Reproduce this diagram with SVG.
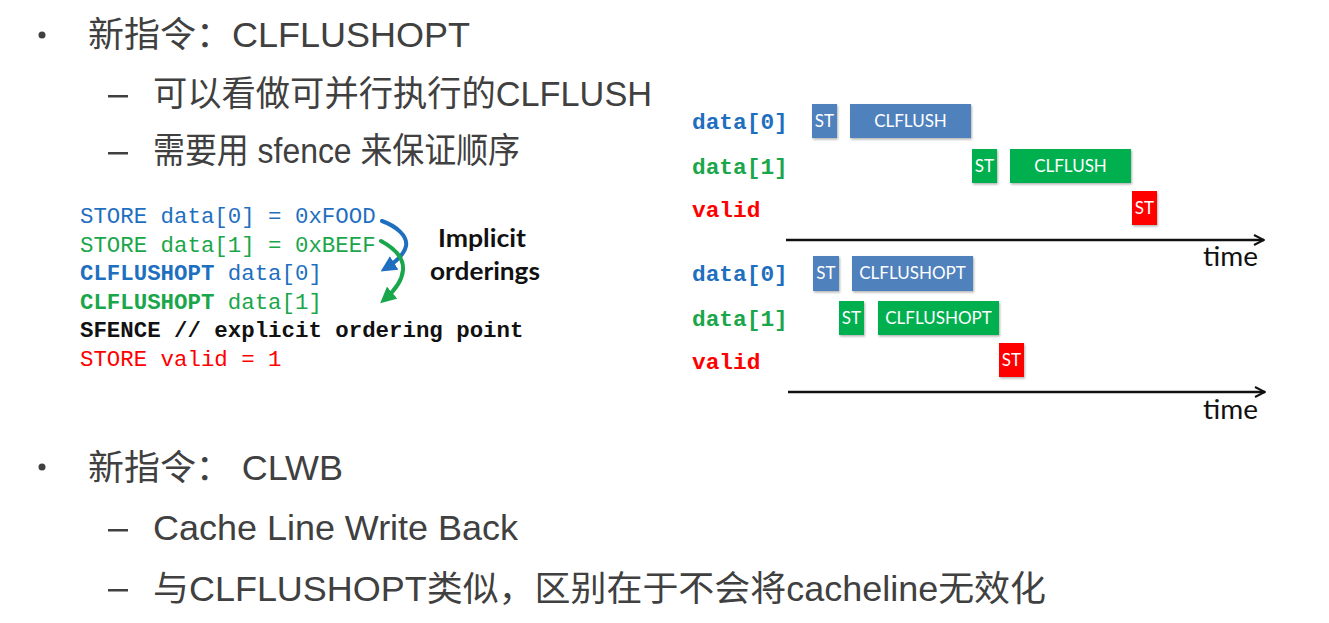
<svg xmlns="http://www.w3.org/2000/svg" width="1329" height="623" viewBox="0 0 1329 623">
<defs>
<style>
.main{font-family:"Liberation Sans","Noto Sans CJK SC",sans-serif;font-size:35px;fill:#404040}
.code{font-family:"Liberation Mono","DejaVu Sans Mono",monospace;font-size:22.4px}
.lbl{font-family:"Liberation Mono","DejaVu Sans Mono",monospace;font-size:22.8px;font-weight:bold}
.b{font-weight:bold}
.blue{fill:#1f6fc0}
.green{fill:#1aa64a}
.red{fill:#ff0000}
.blk{fill:#111}
.boxt{font-family:Lato,"Open Sans",sans-serif;font-size:17px;fill:#fff;text-anchor:middle}
.bb{fill:#4f81bd}
.bg{fill:#00b050}
.br{fill:#ff0000}
.axis{stroke:#111;stroke-width:2.5;fill:none}
.time{font-family:Lato,"Open Sans",sans-serif;font-size:26px;fill:#111}
</style>
<marker id="ah" viewBox="0 0 10 10" refX="9" refY="5" markerWidth="5" markerHeight="5" orient="auto" markerUnits="strokeWidth">
<path d="M1,1 L9,5 L1,9" fill="none" stroke="#111" stroke-width="1.6"/>
</marker>
<marker id="ahb" viewBox="0 0 10 10" refX="6" refY="5" markerWidth="4" markerHeight="4" orient="auto" markerUnits="strokeWidth">
<path d="M0,0 L10,5 L0,10 Z" fill="#1f6fc0"/>
</marker>
<marker id="ahg" viewBox="0 0 10 10" refX="6" refY="5" markerWidth="4" markerHeight="4" orient="auto" markerUnits="strokeWidth">
<path d="M0,0 L10,5 L0,10 Z" fill="#1aa64a"/>
</marker>
<filter id="sh" x="-20%" y="-20%" width="140%" height="140%">
<feDropShadow dx="1" dy="1.5" stdDeviation="1" flood-color="#000" flood-opacity="0.3"/>
</filter>
</defs>
<rect width="1329" height="623" fill="#fff"/>

<g id="bullets">
<circle cx="42" cy="35" r="3.5" fill="#404040"/>
<text class="main" x="88" y="47" textLength="382" lengthAdjust="spacingAndGlyphs">新指令：CLFLUSHOPT</text>
<rect x="108" y="95" width="20" height="2.5" fill="#404040"/>
<text class="main" x="153" y="106" textLength="499" lengthAdjust="spacingAndGlyphs">可以看做可并行执行的CLFLUSH</text>
<rect x="108" y="152" width="20" height="2.5" fill="#404040"/>
<text class="main" x="153" y="163" textLength="367" lengthAdjust="spacingAndGlyphs">需要用 sfence 来保证顺序</text>
<circle cx="42" cy="467" r="3.5" fill="#404040"/>
<text class="main" x="88" y="480" textLength="255" lengthAdjust="spacingAndGlyphs">新指令： CLWB</text>
<rect x="108" y="529" width="20" height="2.5" fill="#404040"/>
<text class="main" x="153" y="540" textLength="365" lengthAdjust="spacingAndGlyphs">Cache Line Write Back</text>
<rect x="108" y="589" width="20" height="2.5" fill="#404040"/>
<text class="main" x="153" y="601" textLength="893" lengthAdjust="spacingAndGlyphs">与CLFLUSHOPT类似，区别在于不会将cacheline无效化</text>
</g>

<g id="code">
<text class="code blue" x="80" y="223">STORE data[0] = 0xFOOD</text>
<text class="code green" x="80" y="252">STORE data[1] = 0xBEEF</text>
<text class="code blue" x="80" y="280"><tspan class="b">CLFLUSHOPT</tspan> data[0]</text>
<text class="code green" x="80" y="309"><tspan class="b">CLFLUSHOPT</tspan> data[1]</text>
<text class="code blk b" x="80" y="337">SFENCE // explicit ordering point</text>
<text class="code red" x="80" y="366">STORE valid = 1</text>
</g>

<g id="implicit">
<text x="438" y="247" font-family="Lato,'Open Sans',sans-serif" font-weight="bold" font-size="25" fill="#111" textLength="88" lengthAdjust="spacingAndGlyphs">Implicit</text>
<text x="430" y="280" font-family="Lato,'Open Sans',sans-serif" font-weight="bold" font-size="25" fill="#111" textLength="110" lengthAdjust="spacingAndGlyphs">orderings</text>
</g>

<g id="connectors">
<path d="M382,221 C396,226 408,236 406,246 C404,256 394,263 386,268" fill="none" stroke="#1f6fc0" stroke-width="4" stroke-linecap="round" marker-end="url(#ahb)"/>
<path d="M381,241 C394,248 404,258 403,270 C402,282 393,292 385,299" fill="none" stroke="#1aa64a" stroke-width="4" stroke-linecap="round" marker-end="url(#ahg)"/>
<line class="axis" x1="786" y1="240" x2="1264" y2="240" marker-end="url(#ah)"/>
<line class="axis" x1="788" y1="392" x2="1265" y2="392" marker-end="url(#ah)"/>
</g>

<g id="timeline1">
<text class="lbl blue" x="692" y="129">data[0]</text>
<text class="lbl green" x="692" y="174">data[1]</text>
<text class="lbl red" x="692" y="217">valid</text>
<g filter="url(#sh)">
<rect class="bb" x="812" y="104" width="25" height="34"/>
<rect class="bb" x="850" y="104" width="121" height="34"/>
<rect class="bg" x="972" y="149" width="25" height="34"/>
<rect class="bg" x="1010" y="149" width="121" height="34"/>
<rect class="br" x="1132" y="191" width="25" height="34"/>
</g>
<text class="boxt" x="824.5" y="127">ST</text>
<text class="boxt" x="910.5" y="127">CLFLUSH</text>
<text class="boxt" x="984.5" y="172">ST</text>
<text class="boxt" x="1070.5" y="172">CLFLUSH</text>
<text class="boxt" x="1144.5" y="214">ST</text>
<text class="time" x="1203" y="266" textLength="55" lengthAdjust="spacingAndGlyphs">time</text>
</g>

<g id="timeline2">
<text class="lbl blue" x="692" y="281">data[0]</text>
<text class="lbl green" x="692" y="326">data[1]</text>
<text class="lbl red" x="692" y="369">valid</text>
<g filter="url(#sh)">
<rect class="bb" x="813" y="256" width="26" height="35"/>
<rect class="bb" x="852" y="256" width="121" height="35"/>
<rect class="bg" x="839" y="301" width="25" height="34"/>
<rect class="bg" x="878" y="301" width="121" height="34"/>
<rect class="br" x="999" y="343" width="25" height="34"/>
</g>
<text class="boxt" x="826" y="279">ST</text>
<text class="boxt" x="912.5" y="279">CLFLUSHOPT</text>
<text class="boxt" x="851.5" y="324">ST</text>
<text class="boxt" x="938.5" y="324">CLFLUSHOPT</text>
<text class="boxt" x="1011.5" y="366">ST</text>
<text class="time" x="1203" y="419" textLength="55" lengthAdjust="spacingAndGlyphs">time</text>
</g>
</svg>
